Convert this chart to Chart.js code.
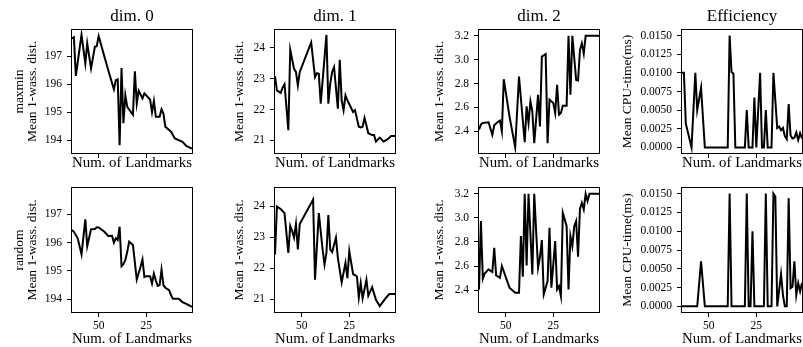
<!DOCTYPE html>
<html>
<head>
<meta charset="utf-8">
<script src="https://cdn.jsdelivr.net/npm/chart.js@4.4.1/dist/chart.umd.min.js"></script>
<style>
  html, body { margin: 0; padding: 0; background: #fff; }
  #fig { position: relative; width: 803px; height: 347px; overflow: hidden; }
  #fig canvas { position: absolute; }
</style>
</head>
<body>
<div id="fig"></div>
<script>
// --- data ---
const colTitles = ['dim. 0', 'dim. 1', 'dim. 2', 'Efficiency'];
const rowNames = ['maxmin', 'random'];
const xTicks = [50, 25];
const dim0Ticks = [194, 195, 196, 197];
const dim1Ticks = [21, 22, 23, 24];
const dim2Ticks = [2.4, 2.6, 2.8, 3.0, 3.2];
const effTicks = [0, 0.0025, 0.005, 0.0075, 0.01, 0.0125, 0.015];

// maxmin
const maxminDim0X = [64,63,62,59,57,56,54,52,51,50,45,42,41,40,39,38,37,36,35,32,31,30,29,27,26,23,22,21,20,18,17,16,15,12,10,6,4,1];
const maxminDim0Y = [197.63,197.67,196.29,197.76,196.74,197.45,196.56,197.33,197.35,197.71,196.50,195.81,196.14,196.17,193.82,196.57,194.60,195.60,195.19,194.90,196.46,195.31,195.76,195.49,195.67,195.45,195.00,195.40,194.83,194.83,195.10,194.95,194.48,194.30,194.06,193.94,193.79,193.70];

const maxminDim1X = [64,63,61,60,59,57,56,54,53,52,51,45,43,42,41,40,37,36,35,34,33,31,30,29,28,27,26,23,22,20,19,18,17,15,13,12,11,9,7,5,3,1];
const maxminDim1Y = [23.08,22.62,22.54,22.71,22.82,21.33,23.94,23.32,23.22,22.78,23.22,24.18,23.05,23.18,23.16,22.19,24.42,22.19,22.84,23.22,23.38,22.03,23.61,22.30,21.98,22.46,22.30,21.92,21.98,21.44,21.42,21.44,21.73,21.23,21.17,21.17,20.96,21.09,20.96,21.03,21.14,21.14];

const maxminDim2X = [64,63,62,59,57,56,54,53,52,51,48,45,43,40,39,38,37,36,35,33,32,31,29,28,27,25,24,23,22,21,20,18,17,16,15,13,12,11,10,9,8,1];
const maxminDim2Y = [2.414,2.456,2.47,2.475,2.37,2.45,2.48,2.49,2.40,2.836,2.525,2.267,2.858,2.308,2.608,2.47,2.65,2.567,2.30,2.706,2.44,3.025,3.047,2.30,2.664,2.636,2.553,2.789,2.539,2.553,2.614,2.614,3.2,2.706,3.2,2.83,2.825,3.08,3.136,3.05,3.2,3.2];

const maxminEffX = [64,63,62,59,57,56,54,52,40,39,38,37,36,31,30,29,27,26,25,23,22,21,20,19,17,16,14,13,12,11,10,9,8,7,6,5,4,3,2,1];
const maxminEffY = [0.01,0.01,0.0032,0,0.01,0.005,0.008,0,0,0.015,0.0101,0.0099,0,0,0.005,0,0,0.0067,0,0.01,0,0,0.005,0,0,0.01,0.0026,0.0028,0.0023,0.0026,0.0015,0.0011,0.0058,0.0016,0.0012,0.0013,0.002,0.001,0.0019,0.0012];

// random
const randomDim0X = [64,63,61,59,57,56,54,52,51,50,47,45,43,42,41,40,39,38,37,36,35,34,32,30,28,27,26,25,23,22,21,20,19,18,17,16,15,13,12,11,8,6,4,1];
const randomDim0Y = [196.44,196.38,196.15,195.58,196.82,195.87,196.47,196.48,196.54,196.53,196.38,196.23,196.24,195.99,196.15,196.09,196.56,195.16,195.23,195.38,195.67,196.03,195.91,194.69,195.14,195.40,194.78,194.81,194.81,194.55,194.90,194.66,194.46,194.49,195.04,194.49,194.40,194.31,194.13,194.01,194.01,193.89,193.83,193.72];

const randomDim1X = [64,63,61,59,57,56,55,54,53,52,51,44,43,41,39,38,37,36,35,34,32,31,29,27,26,25,23,21,20,19,18,16,15,13,11,9,6,4,1];
const randomDim1Y = [22.44,23.98,23.90,23.77,22.49,23.36,23.20,22.98,23.42,22.60,23.42,24.21,21.63,23.77,22.60,22.12,22.49,23.71,22.60,22.52,22.98,22.33,21.54,22.17,21.68,22.55,21.81,21.74,21.06,21.52,21.03,21.63,21.11,21.39,20.98,20.78,21.03,21.17,21.17];

const randomDim2X = [64,63,62,61,59,57,56,55,53,52,48,45,43,42,41,40,39,38,36,35,33,32,31,30,28,27,26,24,23,22,21,20,18,17,16,15,14,13,12,11,10,9,8,7,6,1];
const randomDim2Y = [2.405,2.973,2.494,2.538,2.572,2.55,2.752,2.522,2.502,2.6,2.42,2.378,2.378,2.848,2.511,3.2,2.605,3.2,2.53,3.2,2.586,2.677,2.815,2.364,2.475,2.918,2.42,2.807,2.405,2.433,2.35,3.042,2.931,2.405,2.848,2.765,2.931,2.973,2.677,3.075,3.125,3.07,3.2,3.14,3.2,3.2];

const randomEffX = [64,56,54,52,40,39,38,31,30,29,28,27,26,21,20,19,17,16,15,14,12,11,10,9,8,7,6,5,4,3,2,1];
const randomEffY = [0,0,0.006,0,0,0.015,0,0,0.015,0,0,0.01,0,0,0.015,0,0,0.015,0.0146,0,0.0043,0.0015,0,0,0.0144,0.0024,0.0026,0.006,0.0015,0.0031,0.002,0.0031];

// --- layout ---
const FONT = "'Liberation Serif', 'Times New Roman', serif";
const canvasLefts = [0, 203, 407, 610];
const rowTops = [0, 172];
const rowHeights = [172, 175];

const columns = [
  { ticks: dim0Ticks, dec: 0, min: 193.54, max: 197.93, label: 'Mean 1-wass. dist.', pad: 12.25, series: [[maxminDim0X, maxminDim0Y], [randomDim0X, randomDim0Y]] },
  { ticks: dim1Ticks, dec: 0, min: 20.59, max: 24.58, label: 'Mean 1-wass. dist.', pad: 29.5, series: [[maxminDim1X, maxminDim1Y], [randomDim1X, randomDim1Y]] },
  { ticks: dim2Ticks, dec: 1, min: 2.218, max: 3.248, label: 'Mean 1-wass. dist.', pad: 25.5, series: [[maxminDim2X, maxminDim2Y], [randomDim2X, randomDim2Y]] },
  { ticks: effTicks, dec: 4, min: -0.00075, max: 0.01575, label: 'Mean CPU-time(ms)', pad: 10.5, series: [[maxminEffX, maxminEffY], [randomEffX, randomEffY]] }
];

// box around each axes, like matplotlib spines
const frame = {
  id: 'frame',
  afterDraw(chart) {
    const { ctx, chartArea: a } = chart;
    ctx.save();
    ctx.strokeStyle = '#000';
    ctx.lineWidth = 1;
    ctx.strokeRect(Math.round(a.left) - 0.5, Math.round(a.top) - 0.5, Math.round(a.right - a.left) + 1, Math.round(a.bottom - a.top) + 1);
    ctx.restore();
  }
};

// column title centred over the plot box (the stock title centres on the canvas)
const colTitle = {
  id: 'colTitle',
  afterDraw(chart, args, opts) {
    if (!opts.text) return;
    const { ctx, chartArea: a } = chart;
    ctx.save();
    ctx.fillStyle = '#000';
    ctx.font = `17px ${FONT}`;
    ctx.textAlign = 'center';
    ctx.textBaseline = 'middle';
    ctx.fillText(opts.text, (a.left + a.right) / 2, 16.8);
    ctx.restore();
  }
};

const fig = document.getElementById('fig');

columns.forEach((col, c) => {
  [0, 1].forEach(r => {
    const canvas = document.createElement('canvas');
    canvas.width = 193;
    canvas.height = rowHeights[r];
    canvas.style.left = canvasLefts[c] + 'px';
    canvas.style.top = rowTops[r] + 'px';
    fig.appendChild(canvas);

    const [xs, ys] = col.series[r];
    const points = xs.map((x, i) => ({ x: x, y: ys[i] }));
    const yTitle = c === 0 ? [rowNames[r], col.label] : col.label;
    const tickGrid = { display: true, drawOnChartArea: false, drawTicks: true, tickLength: 5, color: '#000', lineWidth: 1 };

    new Chart(canvas, {
      type: 'line',
      data: { datasets: [{ data: points, borderColor: '#000', borderWidth: 2, pointRadius: 0, tension: 0, fill: false }] },
      options: {
        responsive: false, animation: false, devicePixelRatio: 1,
        layout: { padding: { top: r === 0 ? 30 : 16, right: 1, left: 0, bottom: 0 } },
        plugins: {
          legend: { display: false },
          tooltip: { enabled: false },
          title: { display: false },
          colTitle: { text: r === 0 ? colTitles[c] : '' }
        },
        scales: {
          x: {
            type: 'linear', min: 1, max: 64, reverse: true,
            afterBuildTicks: s => { s.ticks = xTicks.map(v => ({ value: v })); },
            afterFit: s => { s.height = r === 0 ? 19 : 35; },
            grid: tickGrid,
            border: { display: false },
            ticks: { display: r === 1, color: '#000', padding: 2, maxRotation: 0, font: { family: FONT, size: 11.5 } },
            title: { display: true, text: 'Num. of Landmarks', color: '#000', font: { family: FONT, size: 15, lineHeight: 1 }, padding: { top: 0, bottom: r === 0 ? 1 : 0.5 } }
          },
          y: {
            type: 'linear', min: col.min, max: col.max,
            afterBuildTicks: s => { s.ticks = col.ticks.map(v => ({ value: v })); },
            afterFit: s => { s.width = 72; },
            grid: tickGrid,
            border: { display: false },
            ticks: { color: '#000', padding: 5, font: { family: FONT, size: 11.5 }, callback: v => Number(v).toFixed(col.dec) },
            title: { display: true, text: yTitle, color: '#000', font: { family: FONT, size: 13.5, lineHeight: 1 }, padding: { top: col.pad, bottom: 0 } }
          }
        }
      },
      plugins: [frame, colTitle]
    });
  });
});
</script>
</body>
</html>
